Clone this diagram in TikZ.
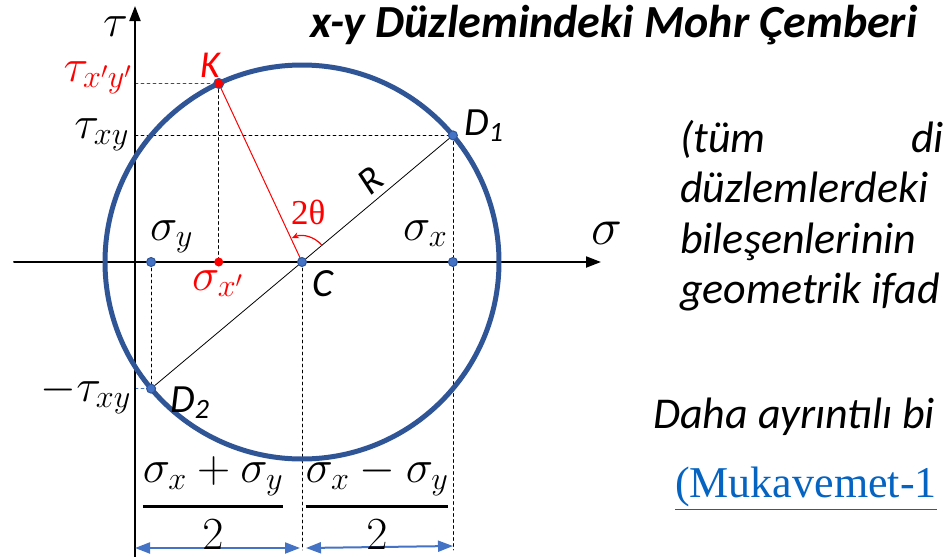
\documentclass[tikz,border=0pt]{standalone}
\usepackage{fix-cm}
\usepackage{amsmath}
\usepackage[no-math]{fontspec}
\setmainfont{Carlito}
\newfontfamily\serifup{Liberation Serif}
\usetikzlibrary{arrows.meta,calc,positioning}
\definecolor{mohr}{HTML}{2F5597}
\definecolor{dotblue}{HTML}{4472C4}
\definecolor{linkblue}{HTML}{0563C1}

\begin{document}
\begin{tikzpicture}[x=1pt,y=-1pt,line cap=round,
  axis/.style={line width=2pt,-{Triangle[length=15pt,width=11pt]}},
  guide/.style={dashed,line width=0.8pt},
  dimline/.style={dotblue,line width=2pt,{Triangle[length=15pt,width=11pt]}-{Triangle[length=15pt,width=11pt]}},
  dot/.style={fill=dotblue,draw=mohr,line width=1pt},
  mlbl/.style={font=\fontsize{46}{52}\selectfont,inner sep=0pt},
  tlbl/.style={font=\fontsize{40}{48}\selectfont\itshape,inner sep=0pt},
  body/.style={font=\fontsize{44}{50}\selectfont\itshape,inner sep=0pt,anchor=base west}]
  \useasboundingbox (0,0) rectangle (943,557);
  \clip (0,0) rectangle (943,557);
  % circle points
  \coordinate (C) at (302,262);
  \coordinate (D1) at ($(C)+(-40:197)$);
  \coordinate (D2) at ($(C)+(-220:197)$);
  \coordinate (K) at ($(C)+(-115:197)$);
  \coordinate (O) at (135,262);
  \coordinate (sy) at (D2 |- C);
  \coordinate (sx) at (D1 |- C);
  \coordinate (sxp) at (K |- C);
  \coordinate (txy) at (O |- D1);
  \coordinate (tK) at (O |- K);
  \coordinate (tD2) at (O |- D2);
  \coordinate (low) at (0,550);
  \coordinate (dA) at (135,548);
  \coordinate (dB) at (300,548);
  \coordinate (dC) at (306,548);
  \coordinate (dD) at (453,546);
  % guides
  \draw[guide] (txy) -- (D1) -- (D1 |- low);
  \draw[guide] (C) -- (C |- low);
  \draw[guide] (sy) -- (D2);
  \draw[guide] (K) -- (sxp);
  \draw[guide,red] (tK) -- (K);
  \draw[guide,dotblue] (tD2) -- (D2);
  % axes
  \draw[axis] (135,557) -- (135,6);
  \draw[axis] (14,262) -- (601,262);
  % diameter and rotated radius
  \draw[line width=0.8pt] (D2) -- (D1);
  \draw[red,line width=1pt] (C) -- (K);
  \draw[red,line width=1.2pt,-{Stealth[length=7pt,width=6pt]}] ($(C)+(-40:26)$) arc[start angle=-40,end angle=-113,radius=26];
  \draw[mohr,line width=5pt] (C) circle[radius=197];
  % dimension arrows
  \draw[dimline] (dA) -- (dB);
  \draw[dimline] (dC) -- (dD);
  % points
  \foreach \p in {C,D1,D2,sy,sx}
    \filldraw[dot] (\p) circle (4.5);
  \filldraw[fill=red,draw=mohr,line width=1pt] (K) circle (5);
  \fill[red] (sxp) circle (4.5);
  % labels
  \node[mlbl,anchor=base east] (tau) at (128,36) {$\tau$};
  \node[mlbl,anchor=base east] (lblK) at (132,81) {\color{red}$\tau_{x'y'}$};
  \node[mlbl,anchor=base east] (lblxy) at (129,138) {$\tau_{xy}$};
  \node[mlbl,anchor=base east] (lblmxy) at (131,401) {$-\tau_{xy}$};
  \node[mlbl,anchor=base west] (lblsy) at (150,240) {$\sigma_y$};
  \node[mlbl,anchor=base west] (lblsx) at (403,240) {$\sigma_x$};
  \node[mlbl,anchor=base west,font=\fontsize{52}{58}\selectfont] (sigma) at (591,244) {$\sigma$};
  \node[mlbl,anchor=base west] (lblsxp) at (192,290) {\color{red}$\sigma_{x'}$};
  \node[tlbl,anchor=base west] (lblC) at (312,296) {C};
  \node[tlbl,anchor=base west,red,font=\fontsize{38}{44}\selectfont\itshape] (nameK) at (200,77) {K};
  \node[tlbl,anchor=base west] (lblD1) at (464,135) {D\textsubscript{1}};
  \node[tlbl,anchor=base west] (lblD2) at (170,412) {D\textsubscript{2}};
  \node[inner sep=0pt,anchor=base west,red,font=\fontsize{35}{40}\selectfont\serifup] (ang) at (291,224) {2θ};
  \node[tlbl,rotate=40,font=\fontsize{38}{44}\selectfont\itshape] (lblR) at (371,181) {R};
  \node[mlbl,anchor=base] (fracA) at (213,518) {$\genfrac{}{}{3pt}{0}{\sigma_x+\sigma_y}{2}$};
  \node[mlbl,anchor=base] (fracB) at (377,518) {$\genfrac{}{}{3pt}{0}{\sigma_x-\sigma_y}{2}$};
  % title and side text
  \node[anchor=base west,inner sep=0pt,font=\fontsize{46}{52}\selectfont\bfseries\itshape] (title) at (310,37) {x-y Düzlemindeki Mohr Çemberi};
  \node[body] (line1) at (680,152) {(tüm};
  \node[body] (line1b) at (911,152) {di};
  \node[body] (line2) at (680,202) {düzlemlerdeki};
  \node[body] (line3) at (680,253) {bileşenlerinin};
  \node[body] (line4) at (680,303) {geometrik ifad};
  \node[body] (more) at (653,428) {Daha ayrıntılı bi};
  \node[anchor=base west,inner sep=0pt,linkblue,font=\fontsize{44}{50}\selectfont\serifup] (link) at (675,497) {\underline{(Mukavemet-1}};
\end{tikzpicture}
\end{document}
